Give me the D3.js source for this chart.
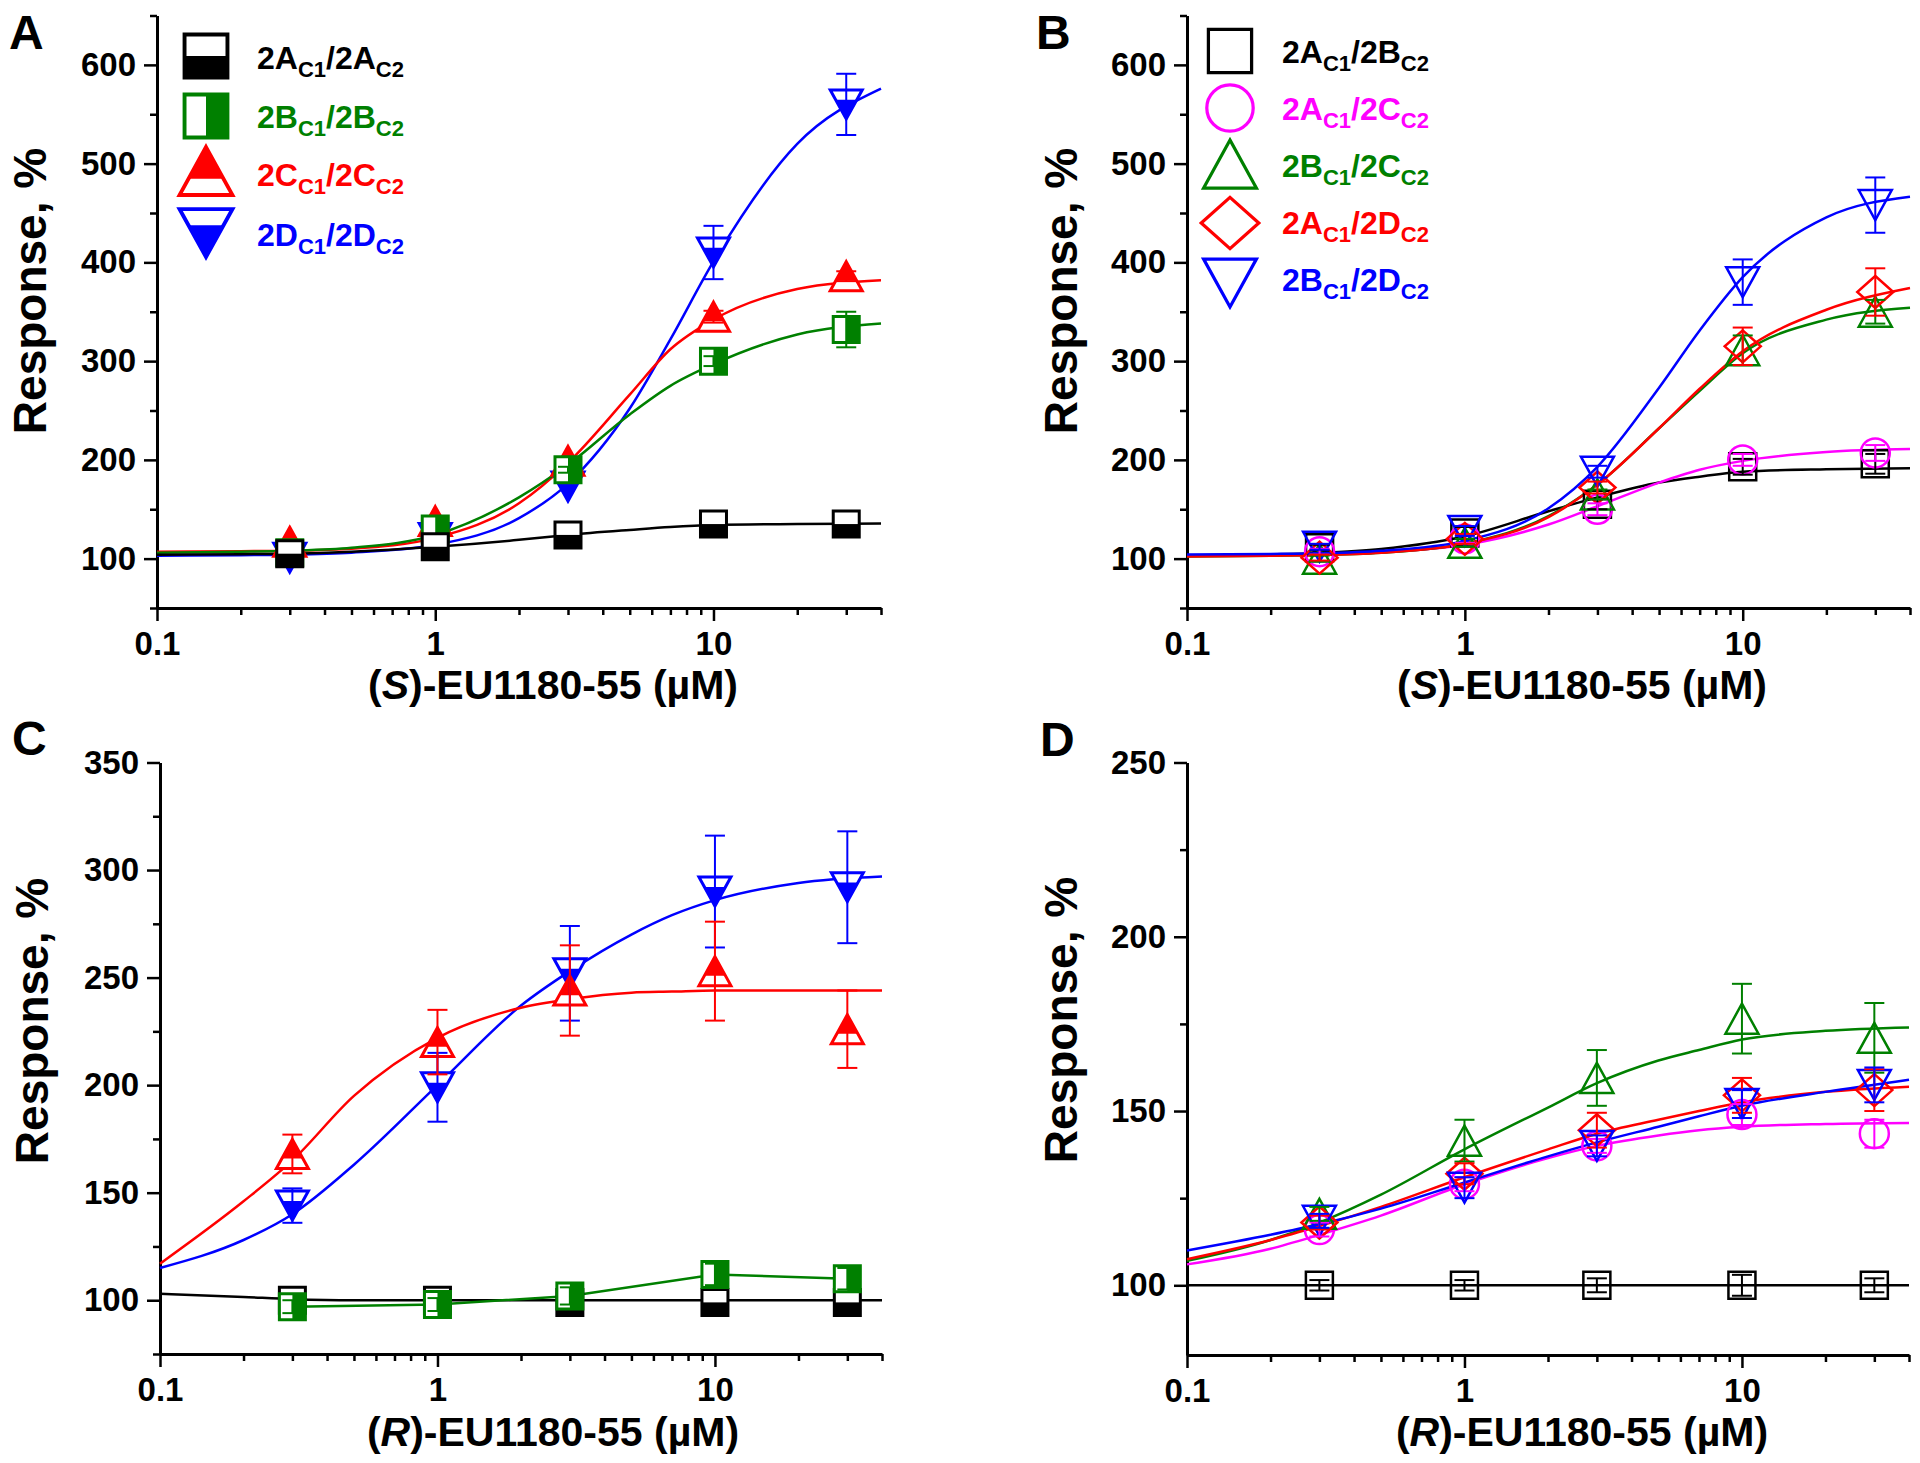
<!DOCTYPE html>
<html><head><meta charset="utf-8">
<script src="https://cdn.jsdelivr.net/npm/d3@7"></script>
<style>
body{margin:0;background:#fff}
svg text{font-family:"Liberation Sans",Arial,sans-serif;font-weight:bold}
</style></head>
<body><svg id="chart" width="1920" height="1463"></svg>
<script>
// ---------------- DATA ----------------
const doses = [0.3, 1, 3, 10, 30];
const fitDoses = [0.1, 0.2, 0.3, 0.5, 1, 2, 3, 5, 7, 10, 20, 40];
const xMajorTicks = [0.1, 1, 10];
const xMajorLabels = ["0.1", "1", "10"];
const xMinorTicks = [0.2,0.3,0.4,0.5,0.6,0.7,0.8,0.9,2,3,4,5,6,7,8,9,20,30,40];
const yTicksAB = [100,200,300,400,500,600];
const yMinorAB = [50,150,250,350,450,550,650];
const yTicksC = [100,150,200,250,300,350];
const yMinorC = [75,125,175,225,275,325];
const yTicksD = [100,150,200,250];
const yMinorD = [125,175,225];

// Panel A: (S)-EU1180-55, homomeric
const namesA = ["2A_C1/2A_C2","2B_C1/2B_C2","2C_C1/2C_C2","2D_C1/2D_C2"];
const A_2A = [105,112,124,135,135];      const A_2A_err = [0,0,0,0,0];
const A_2B = [106,130,190,300,332];      const A_2B_err = [0,0,3,5,18];
const A_2C = [117,138,199,345,386];      const A_2C_err = [0,0,0,6,5];
const A_2D = [101,121,173,410,560];      const A_2D_err = [0,0,0,27,31];
const A_2A_fit = [104,104.5,105,107,112,119,124,129,132,134,135,135.5];
const A_2B_fit = [106,107,108,111,124,162,195,246,275,297,327,338];
const A_2C_fit = [107,107.5,108,110,121,156,197,266,312,342,373,382];
const A_2D_fit = [103,103.5,104,106,114,141,176,252,322,401,520,576];

// Panel B: (S)-EU1180-55, heteromeric
const namesB = ["2A_C1/2B_C2","2A_C1/2C_C2","2B_C1/2C_C2","2A_C1/2D_C2","2B_C1/2D_C2"];
const B_AB = [111,126,155,193,196];      const B_AB_err = [3,6,5,8,10];
const B_AC = [107,120,150,200,207];      const B_AC_err = [3,4,6,6,8];
const B_BC = [100,116,165,311,350];      const B_BC_err = [3,4,5,15,12];
const B_AD = [101,120,172,315,370];      const B_AD_err = [3,5,6,19,24];
const B_BD = [112,128,188,380,458];      const B_BD_err = [3,5,6,23,28];
const B_AB_fit = [103.4,104.4,105.8,109.7,122.6,148,162,177,183,188,190.6,191.6];
const B_AC_fit = [103,103.5,104.5,106.5,114,134.5,153,177,190,199,208,211];
const B_BC_fit = [102.2,103,103.6,106,115.3,143,175,232,270,308,342,354];
const B_AD_fit = [102.2,103,103.6,106,115,142,175,232,272,310,352,374];
const B_BD_fit = [104.2,104.7,105.4,108,118,151,193,273,331,385,445.6,466.5];

// Panel C: (R)-EU1180-55, homomeric
const C_2A = [100,100,99,99,99];         const C_2A_err = [0,0,0,0,0];
const C_2B = [97,98,102,112,110];        const C_2B_err = [3,3,4,5,5];
const C_2C = [168,220,244,253,226];      const C_2C_err = [9,15,21,23,18];
const C_2D = [144,199,252,290,292];      const C_2D_err = [8,16,22,26,26];
const C_2A_fit = [103,101.5,100.5,100,100,100,100,100,100,100,100,100];
const C_2C_fit = [117,146,165,195,222,236,240,243,243.5,244,244,244];
const C_2D_fit = [115,128,140,163,200,237,253,270,279,286,294,297];

// Panel D: (R)-EU1180-55, heteromeric
const D_AB = [100,100,100,100,100];      const D_AB_err = [1.5,1.5,2,3,2];
const D_AC = [116,129,140,149,143.5];    const D_AC_err = [2,2,2,3,4];
const D_BC = [120.5,141.5,159.5,176.5,171]; const D_BC_err = [2,6,8,10,10];
const D_AD = [118,132,144.5,154.5,156];  const D_AD_err = [2,3,5,5,6];
const D_BD = [118.5,128,140,152,157.5];  const D_BD_err = [2,3,3,4,5];
const D_AB_fit = [100,100,100,100,100,100,100,100,100,100,100,100];
const D_AC_fit = [106,110.5,114.5,120,129,136.5,140,143,144.5,145.5,146.3,146.6];
const D_BC_fit = [107,113,118,126,139,151,158,164.5,167.5,170.5,173,174];
const D_AD_fit = [107.5,113,117,122.5,131,139,143.5,147.5,150,152.5,155.5,157];
const D_BD_fit = [110,114.5,117.5,122,129.5,137,141,145.5,148.5,151.5,155.5,159];

// ---------------- STYLES ----------------
const BLACK="#000000", GREEN="#008000", RED="#ff0000", BLUE="#0000ff", MAG="#ff00ff";

const svg = d3.select("#chart");

function markerPath(type, w, h){
  const hw=w/2, hh=h/2;
  switch(type){
    case "sq": return `M${-hw},${-hh}H${hw}V${hh}H${-hw}Z`;
    case "up": return `M0,${-hh}L${hw},${hh}L${-hw},${hh}Z`;
    case "down": return `M${-hw},${-hh}L${hw},${-hh}L0,${hh}Z`;
    case "dia": return `M0,${-hh}L${hw},0L0,${hh}L${-hw},0Z`;
  }
}
function fillPath(type, fill, w, h){
  const hw=w/2, hh=h/2;
  if(type==="sq" && fill==="bottom") return `M${-hw},0H${hw}V${hh}H${-hw}Z`;
  if(type==="sq" && fill==="right") return `M0,${-hh}H${hw}V${hh}H0Z`;
  if(type==="up"){ const yl = -hh + 0.66*h; const k = hw*((yl+hh)/h);
    return `M0,${-hh}L${k},${yl}L${-k},${yl}Z`; }
  if(type==="down"){ const yl = -hh + 0.34*h; const k = hw*((hh-yl)/h);
    return `M${-k},${yl}L${k},${yl}L0,${hh}Z`; }
  return null;
}
function drawMarker(g, cx, cy, st, scale){
  const s = scale||1;
  const m = g.append("g").attr("transform",`translate(${cx},${cy})`);
  const sw = st.sw*(s>1?1.3:1);
  if(st.shape==="circle"){
    m.append("circle").attr("r",st.w/2*s).attr("fill","none").attr("stroke",st.color).attr("stroke-width",sw);
    return;
  }
  const w=st.w*s, h=st.h*s;
  m.append("path").attr("d",markerPath(st.shape,w,h)).attr("fill", st.fill?"#fff":"none");
  if(st.fill){
    m.append("path").attr("d",fillPath(st.shape,st.fill,w,h)).attr("fill",st.color);
  }
  m.append("path").attr("d",markerPath(st.shape,w,h)).attr("fill","none")
    .attr("stroke",st.color).attr("stroke-width",sw).attr("stroke-linejoin","miter");
}

function richText(g, x, y, str, size, subSize, color){
  const t = g.append("text").attr("x",x).attr("y",y).attr("fill",color).attr("font-size",size);
  const parts = str.split(/(_C\d)/).filter(d=>d.length);
  let down=false;
  parts.forEach(p=>{
    if(p.startsWith("_")){
      t.append("tspan").text(p.slice(1)).attr("font-size",subSize).attr("dy",down?0:8);
      down=true;
    } else {
      t.append("tspan").text(p).attr("dy",down?-8:0);
      down=false;
    }
  });
}

function drawPanel(p){
  const g = svg.append("g");
  const x = d3.scaleLog().domain([0.1,40]).range([p.x0,p.x1]);
  const y = d3.scaleLinear().domain(p.yDomain).range([p.yBot,p.yTop]);

  const styleAxis = (ax)=>{
    ax.attr("font-family",null).attr("font-size",null);
    ax.selectAll("path.domain").attr("stroke-width",3).attr("stroke","#000");
    ax.selectAll(".tick line").attr("stroke-width",2.5).attr("stroke","#000");
    ax.selectAll(".tick text").attr("font-size",33).attr("fill","#000");
  };
  const xMin = g.append("g").attr("transform",`translate(0,${p.yBot})`)
    .call(d3.axisBottom(x).tickValues(xMinorTicks).tickSize(7).tickSizeOuter(0).tickFormat(""));
  styleAxis(xMin); xMin.select("path.domain").remove();
  const yMin = g.append("g").attr("transform",`translate(${p.x0},0)`)
    .call(d3.axisLeft(y).tickValues(p.yMinor).tickSize(7).tickSizeOuter(0).tickFormat(""));
  styleAxis(yMin); yMin.select("path.domain").remove();
  const xAx = g.append("g").attr("transform",`translate(0,${p.yBot})`)
    .call(d3.axisBottom(x).tickValues(xMajorTicks).tickSize(13).tickPadding(11).tickSizeOuter(0)
      .tickFormat((d,i)=>xMajorLabels[i]));
  styleAxis(xAx);
  const yAx = g.append("g").attr("transform",`translate(${p.x0},0)`)
    .call(d3.axisLeft(y).tickValues(p.yTicks).tickSize(13).tickPadding(8).tickSizeOuter(0).tickFormat(d3.format("d")));
  styleAxis(yAx);

  g.append("text").attr("x",p.letter[0]).attr("y",p.letter[1]).attr("font-size",48).text(p.id);
  g.append("text").attr("transform",`translate(${p.ytitle[0]},${p.ytitle[1]}) rotate(-90)`)
    .attr("text-anchor","middle").attr("font-size",46).text("Response, %");
  const xt = g.append("text").attr("x",p.xtitle[0]).attr("y",p.xtitle[1]).attr("text-anchor","middle").attr("font-size",41);
  xt.append("tspan").text("(");
  xt.append("tspan").attr("font-style","italic").text(p.enant);
  xt.append("tspan").text(")-EU1180-55 (\u00b5M)");

  const line = d3.line().x(d=>x(d[0])).y(d=>y(d[1])).curve(d3.curveMonotoneX);
  const lineLin = d3.line().x(d=>x(d[0])).y(d=>y(d[1]));
  p.series.forEach(s=>{
    if(s.fit) g.append("path").datum(d3.zip(fitDoses,s.fit)).attr("d",line)
      .attr("fill","none").attr("stroke",s.st.color).attr("stroke-width",2.5);
    if(s.connect) g.append("path").datum(d3.zip(doses,s.vals)).attr("d",lineLin)
      .attr("fill","none").attr("stroke",s.st.color).attr("stroke-width",2.5);
  });
  p.series.forEach(s=>{
    s.vals.forEach((v,i)=>drawMarker(g,x(doses[i]),y(v),s.st,1));
  });
  p.series.forEach(s=>{
    s.vals.forEach((v,i)=>{
      const e=s.err[i]; if(!e) return;
      const cx=x(doses[i]);
      const eg=g.append("g").attr("stroke",s.st.color).attr("stroke-width",2);
      eg.append("line").attr("x1",cx).attr("x2",cx).attr("y1",y(v-e)).attr("y2",y(v+e));
      eg.append("line").attr("x1",cx-10).attr("x2",cx+10).attr("y1",y(v+e)).attr("y2",y(v+e));
      eg.append("line").attr("x1",cx-10).attr("x2",cx+10).attr("y1",y(v-e)).attr("y2",y(v-e));
    });
  });
  if(p.legend){
    const L=p.legend;
    p.series.forEach(s=>{
      if(!s.name) return;
      const i = s.leg;
      drawMarker(g,L.mx,L.my[i],s.st,L.scale);
      richText(g,L.tx,L.ty[i],s.name,32,22,s.st.color);
    });
  }
}

const stA = [
  {color:BLACK, shape:"sq", w:26, h:26, sw:3, fill:"bottom"},
  {color:GREEN, shape:"sq", w:26, h:26, sw:3, fill:"right"},
  {color:RED, shape:"up", w:32, h:29, sw:3, fill:"up"},
  {color:BLUE, shape:"down", w:32, h:29, sw:3, fill:"down"}
];
const stB = [
  {color:BLACK, shape:"sq", w:27, h:27, sw:2.5},
  {color:MAG, shape:"circle", w:29, h:29, sw:2.5},
  {color:GREEN, shape:"up", w:33, h:30, sw:2.5},
  {color:RED, shape:"dia", w:36, h:32, sw:2.5},
  {color:BLUE, shape:"down", w:33, h:30, sw:2.5}
];

const panels = [
  {id:"A", enant:"S", x0:157, x1:881, yTop:15.5, yBot:608, yDomain:[50,650], yTicks:yTicksAB, yMinor:yMinorAB,
   letter:[9,49], ytitle:[46,291], xtitle:[553,699],
   legend:{mx:206, my:[56,116,171,233], tx:257, ty:[69,128,186,246], scale:1.65},
   series:[
     {name:namesA[3], leg:3, st:stA[3], vals:A_2D, err:A_2D_err, fit:A_2D_fit},
     {name:namesA[2], leg:2, st:stA[2], vals:A_2C, err:A_2C_err, fit:A_2C_fit},
     {name:namesA[1], leg:1, st:stA[1], vals:A_2B, err:A_2B_err, fit:A_2B_fit},
     {name:namesA[0], leg:0, st:stA[0], vals:A_2A, err:A_2A_err, fit:A_2A_fit}
   ]},
  {id:"B", enant:"S", x0:1187, x1:1910, yTop:15.5, yBot:608, yDomain:[50,650], yTicks:yTicksAB, yMinor:yMinorAB,
   letter:[1036,49], ytitle:[1077,291], xtitle:[1582,699],
   legend:{mx:1230, my:[51,108,164,223,283], tx:1282, ty:[63,120,177,234,291], scale:1.6},
   series:[
     {name:namesB[0], leg:0, st:stB[0], vals:B_AB, err:B_AB_err, fit:B_AB_fit},
     {name:namesB[1], leg:1, st:stB[1], vals:B_AC, err:B_AC_err, fit:B_AC_fit},
     {name:namesB[2], leg:2, st:stB[2], vals:B_BC, err:B_BC_err, fit:B_BC_fit},
     {name:namesB[3], leg:3, st:stB[3], vals:B_AD, err:B_AD_err, fit:B_AD_fit},
     {name:namesB[4], leg:4, st:stB[4], vals:B_BD, err:B_BD_err, fit:B_BD_fit}
   ]},
  {id:"C", enant:"R", x0:160, x1:882, yTop:762.5, yBot:1354, yDomain:[75,350], yTicks:yTicksC, yMinor:yMinorC,
   letter:[12,755], ytitle:[48,1021], xtitle:[553,1446],
   series:[
     {st:stA[3], vals:C_2D, err:C_2D_err, fit:C_2D_fit},
     {st:stA[2], vals:C_2C, err:C_2C_err, fit:C_2C_fit},
     {st:stA[0], vals:C_2A, err:C_2A_err, fit:C_2A_fit},
     {st:stA[1], vals:C_2B, err:C_2B_err, connect:true}
   ]},
  {id:"D", enant:"R", x0:1187, x1:1909, yTop:762.5, yBot:1355, yDomain:[80,250], yTicks:yTicksD, yMinor:yMinorD,
   letter:[1040,756], ytitle:[1077,1020], xtitle:[1582,1446],
   series:[
     {st:stB[0], vals:D_AB, err:D_AB_err, fit:D_AB_fit},
     {st:stB[1], vals:D_AC, err:D_AC_err, fit:D_AC_fit},
     {st:stB[2], vals:D_BC, err:D_BC_err, fit:D_BC_fit},
     {st:stB[3], vals:D_AD, err:D_AD_err, fit:D_AD_fit},
     {st:stB[4], vals:D_BD, err:D_BD_err, fit:D_BD_fit}
   ]}
];
panels.forEach(drawPanel);
</script>
</body></html>
